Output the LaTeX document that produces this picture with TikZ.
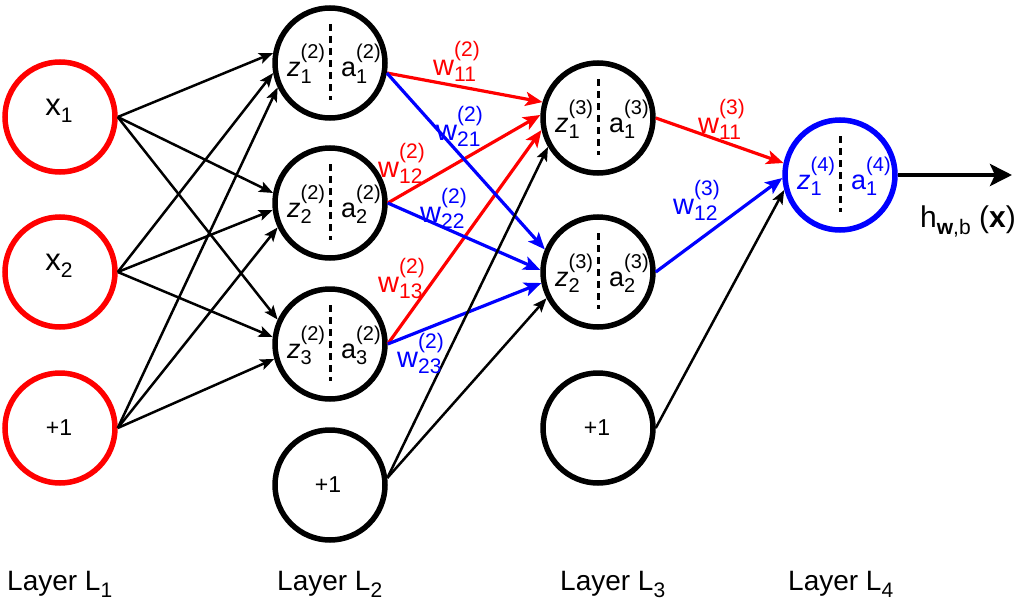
\documentclass[tikz,border=0pt]{standalone}
\usepackage{fontspec}
\setmainfont{Liberation Sans}
\usetikzlibrary{arrows.meta,calc}
\newcommand\scr{\fontsize{21}{21}\selectfont}
\newcommand\scrn{\fontsize{20}{20}\selectfont}
\newcommand\supsub[2]{\rlap{\raisebox{-6pt}{\scr #1}}\raisebox{19pt}{\scr #2}}
\newcommand\supsubn[2]{\rlap{\raisebox{-6pt}{\scrn #1}}\raisebox{18pt}{\scrn #2}}
\newcommand\subonly[1]{\raisebox{-7pt}{\scr #1}}
\newcommand\neuronparts[4]{%
  \draw[divider] ($(#1)+(0,-39)$) -- ($(#1)+(0,37)$);
  \node[nlbl,text=#4] (#1z) at ($(#1)+(-43,14)$) {\textit{z}\supsubn{#2}{(#3)}};
  \node[nlbl,text=#4] (#1a) at ($(#1)+(11,14)$) {a\supsubn{#2}{(#3)}};
}
\begin{document}
\begin{tikzpicture}[x=1pt,y=-1pt,
  font=\fontsize{29}{32}\selectfont,
  neuron/.style={circle, draw=black, line width=5.5pt, minimum size=110pt, inner sep=0pt},
  inred/.style={neuron, draw=red},
  outblue/.style={neuron, draw=blue},
  edge/.style={line width=2.5pt, -{Stealth[length=14pt,width=11pt,inset=3pt]}},
  redge/.style={line width=3.2pt, draw=red, -{Stealth[length=17pt,width=14pt,inset=4pt]}},
  bedge/.style={line width=3.2pt, draw=blue, -{Stealth[length=17pt,width=14pt,inset=4pt]}},
  outedge/.style={line width=4.5pt, -{Stealth[length=22pt,width=22pt,inset=5pt]}},
  divider/.style={line width=3pt, dash pattern=on 7pt off 5pt},
  lbl/.style={anchor=base west, inner sep=0pt},
  nlbl/.style={anchor=base west, inner sep=0pt, font=\fontsize{27}{30}\selectfont},
  ctr/.style={anchor=base, inner sep=0pt},
  layer/.style={anchor=base west, inner sep=0pt, font=\fontsize{28}{30}\selectfont}
]
\useasboundingbox (0,0) rectangle (1024,602);

% Layer 1
\node[inred] (X1) at (60,117) {};
\node[inred] (X2) at (60,272) {};
\node[inred] (B1) at (60,428) {};
\node[ctr,font=\fontsize{31}{34}\selectfont] (X1t) at (59,115) {x\subonly{1}};
\node[ctr,font=\fontsize{31}{34}\selectfont] (X2t) at (59,270) {x\subonly{2}};
\node[ctr,font=\fontsize{23}{26}\selectfont] (B1t) at (59,435) {+1};

% Layer 2
\node[neuron] (Z21) at (330,63) {};
\node[neuron] (Z22) at (330,203) {};
\node[neuron] (Z23) at (330,344) {};
\node[neuron] (B2) at (330,485) {};
\node[ctr,font=\fontsize{23}{26}\selectfont] (B2t) at (328,492) {+1};
\neuronparts{Z21}{1}{2}{black}
\neuronparts{Z22}{2}{2}{black}
\neuronparts{Z23}{3}{2}{black}

% Layer 3
\node[neuron] (Z31) at (598,118) {};
\node[neuron] (Z32) at (598,272) {};
\node[neuron] (B3) at (598,428) {};
\node[ctr,font=\fontsize{23}{26}\selectfont] (B3t) at (597,435) {+1};
\neuronparts{Z31}{1}{3}{black}
\neuronparts{Z32}{2}{3}{black}

% Layer 4
\node[outblue] (Z41) at (840,175) {};
\neuronparts{Z41}{1}{4}{blue}

% L1 -> L2
\draw[edge] (X1.east) -- (Z21.170);
\draw[edge] (X1.east) -- (Z22.170);
\draw[edge] (X1.east) -- (Z23.155);
\draw[edge] (X2.east) -- (Z21.190);
\draw[edge] (X2.east) -- (Z22.187);
\draw[edge] (X2.east) -- (Z23.173);
\draw[edge] (B1.east) -- (Z21.205);
\draw[edge] (B1.east) -- (Z22.205);
\draw[edge] (B1.east) -- (Z23.195);

% L2 -> L3
\draw[redge] (Z21.-10) -- (Z31.164);
\draw[redge] (Z22.east) -- (Z31.177);
\draw[redge] (Z23.east) -- (Z31.192);
\draw[bedge] (Z21.-10) -- (Z32.157);
\draw[bedge] (Z22.east) -- (Z32.178);
\draw[bedge] (Z23.east) -- (Z32.191);
\draw[edge] (B2.7) -- (Z31.210);
\draw[edge] (B2.7) -- (Z32.207);

% L3 -> L4
\draw[redge] (Z31.east) -- (Z41.168);
\draw[bedge] (Z32.east) -- (Z41.183);
\draw[edge] (B3.east) -- (Z41.195);

% output
\coordinate (out) at (1012,175);
\draw[outedge] (Z41.east) -- (out);
\node[lbl,font=\fontsize{30}{32}\selectfont] (hlab) at (920,227) {h\subonly{\textbf{w},b} (\textbf{x})};

% weight labels
\node[lbl,text=red]  (w112) at (433,75)  {w\supsub{11}{(2)}};
\node[lbl,text=blue] (w212) at (436,140) {w\supsub{21}{(2)}};
\node[lbl,text=red]  (w122) at (378,177) {w\supsub{12}{(2)}};
\node[lbl,text=blue] (w222) at (420,222) {w\supsub{22}{(2)}};
\node[lbl,text=red]  (w132) at (378,292) {w\supsub{13}{(2)}};
\node[lbl,text=blue] (w232) at (397,367) {w\supsub{23}{(2)}};
\node[lbl,text=red]  (w113) at (698,133) {w\supsub{11}{(3)}};
\node[lbl,text=blue] (w123) at (673,214) {w\supsub{12}{(3)}};

% layer labels
\node[layer] (L1) at (7,590)   {Layer L\subonly{1}};
\node[layer] (L2) at (277,590) {Layer L\subonly{2}};
\node[layer] (L3) at (560,590) {Layer L\subonly{3}};
\node[layer] (L4) at (788,590) {Layer L\subonly{4}};
\end{tikzpicture}
\end{document}
